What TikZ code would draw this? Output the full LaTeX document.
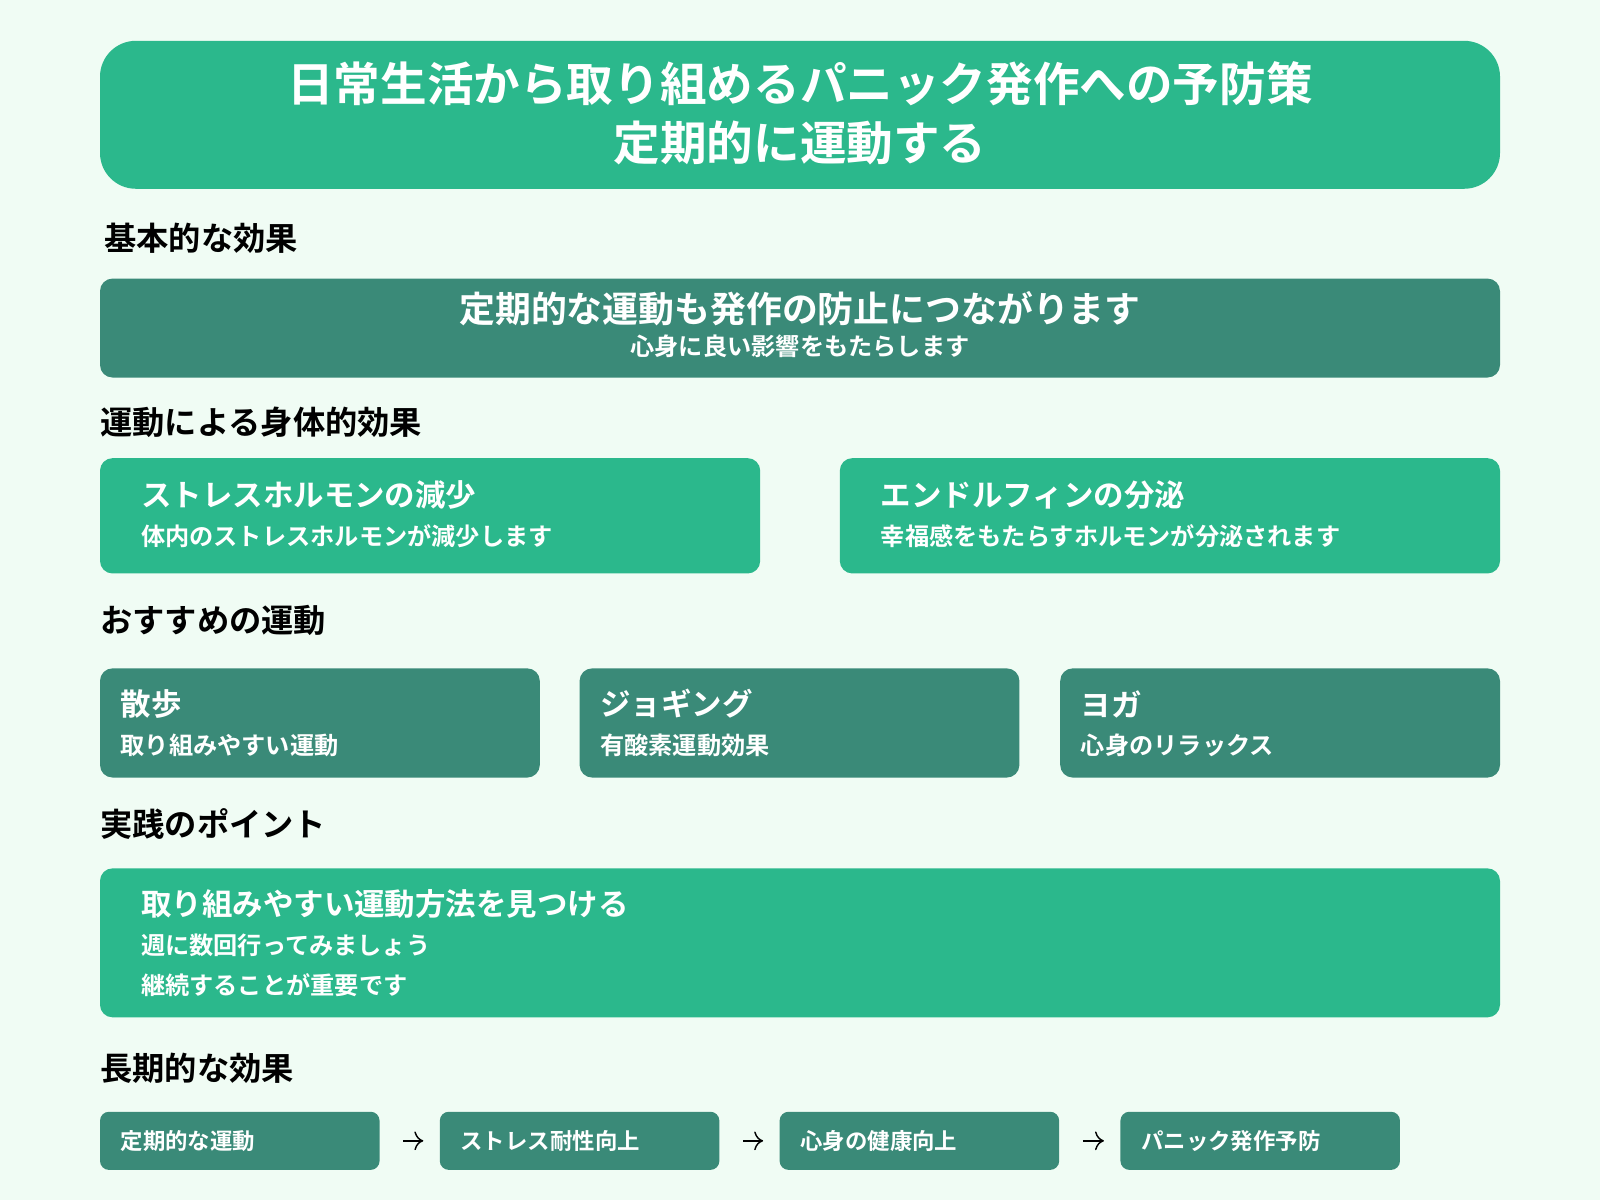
\documentclass[tikz,border=0pt]{standalone}
\usepackage{fontspec}
\setmainfont{Noto Sans CJK JP}[BoldFont={Noto Sans CJK JP Bold}]
\usetikzlibrary{positioning, arrows.meta}
\definecolor{bgmint}{HTML}{F0FCF4}
\definecolor{mintgreen}{HTML}{2BB88C}
\definecolor{deepgreen}{HTML}{3A8A78}
\tikzset{
  card/.style={draw=none, rounded corners=7pt, inner sep=0pt},
  heading/.style={anchor=west, inner sep=0pt, font=\bfseries\fontsize{18}{20}\selectfont},
  bigtext/.style={anchor=west, inner sep=0pt, text=white, font=\bfseries\fontsize{17}{19}\selectfont},
  smalltext/.style={anchor=west, inner sep=0pt, text=white, font=\bfseries\fontsize{13.5}{15}\selectfont},
  flowbox/.style={fill=deepgreen, rounded corners=5pt, minimum width=5.48cm, minimum height=1.14cm, inner sep=0pt}
}
\begin{document}
\begin{tikzpicture}[x=0.02cm, y=-0.02cm]
  \fill[bgmint] (0,0) rectangle (1568,1176);
  \useasboundingbox (0,0) rectangle (1568,1176);

  % title
  \fill[mintgreen, rounded corners=20pt] (98,40) rectangle (1470,185);
  \node[text=white, align=center, font=\bfseries\fontsize{26}{33}\selectfont] (title) at (784,111)
    {日常生活から取り組めるパニック発作への予防策\\定期的に運動する};

  % basic effect
  \node[heading] (h1) at (102,234) {基本的な効果};
  \fill[deepgreen, rounded corners=7pt] (98,273) rectangle (1470,370);
  \node[text=white, inner sep=0pt, font=\bfseries\fontsize{20}{22}\selectfont] (main) at (784,303) {定期的な運動も発作の防止につながります};
  \node[text=white, inner sep=0pt, font=\bfseries\fontsize{13.5}{15}\selectfont] (mainsub) at (784,339) {心身に良い影響をもたらします};

  % physical effects
  \node[heading] (h2) at (98,414) {運動による身体的効果};
  \fill[mintgreen, rounded corners=7pt] (98,449) rectangle (745,562);
  \fill[mintgreen, rounded corners=7pt] (823,449) rectangle (1470,562);
  \node[bigtext] (stress) at (138,485) {ストレスホルモンの減少};
  \node[smalltext] (stresssub) at (138,525) {体内のストレスホルモンが減少します};
  \node[bigtext] (endo) at (863,485) {エンドルフィンの分泌};
  \node[smalltext] (endosub) at (863,525) {幸福感をもたらすホルモンが分泌されます};

  % recommended
  \node[heading] (h3) at (98,608) {おすすめの運動};
  \foreach \x/\t/\s in {98/散歩/取り組みやすい運動, 568/ジョギング/有酸素運動効果, 1039/ヨガ/心身のリラックス}{
    \fill[deepgreen, rounded corners=7pt] (\x,655) rectangle ++(431,107);
    \node[bigtext] at (\x+20,690) {\t};
    \node[smalltext] at (\x+20,730) {\s};
  }

  % practice
  \node[heading] (h4) at (98,808) {実践のポイント};
  \fill[mintgreen, rounded corners=7pt] (98,851) rectangle (1470,997);
  \node[bigtext] (p1) at (138,886) {取り組みやすい運動方法を見つける};
  \node[smalltext] (p2) at (138,926) {週に数回行ってみましょう};
  \node[smalltext] (p3) at (138,965) {継続することが重要です};

  % long term
  \node[heading] (h5) at (98,1047) {長期的な効果};
  \node[flowbox] (f1) at (235,1118) {};
  \node[flowbox] (f2) at (568,1118) {};
  \node[flowbox] (f3) at (901,1118) {};
  \node[flowbox] (f4) at (1235,1118) {};
  \node[smalltext, font=\bfseries\fontsize{12.5}{14}\selectfont] at (118,1118) {定期的な運動};
  \node[smalltext, font=\bfseries\fontsize{12.5}{14}\selectfont] at (451,1118) {ストレス耐性向上};
  \node[smalltext, font=\bfseries\fontsize{12.5}{14}\selectfont] at (784,1118) {心身の健康向上};
  \node[smalltext, font=\bfseries\fontsize{12.5}{14}\selectfont] at (1118,1118) {パニック発作予防};
  \foreach \a/\b in {f1/f2, f2/f3, f3/f4}
    \draw[-{To[length=5pt]}, line width=0.8pt, shorten <=13pt, shorten >=9pt] (\a.east) -- (\b.west);
\end{tikzpicture}
\end{document}
